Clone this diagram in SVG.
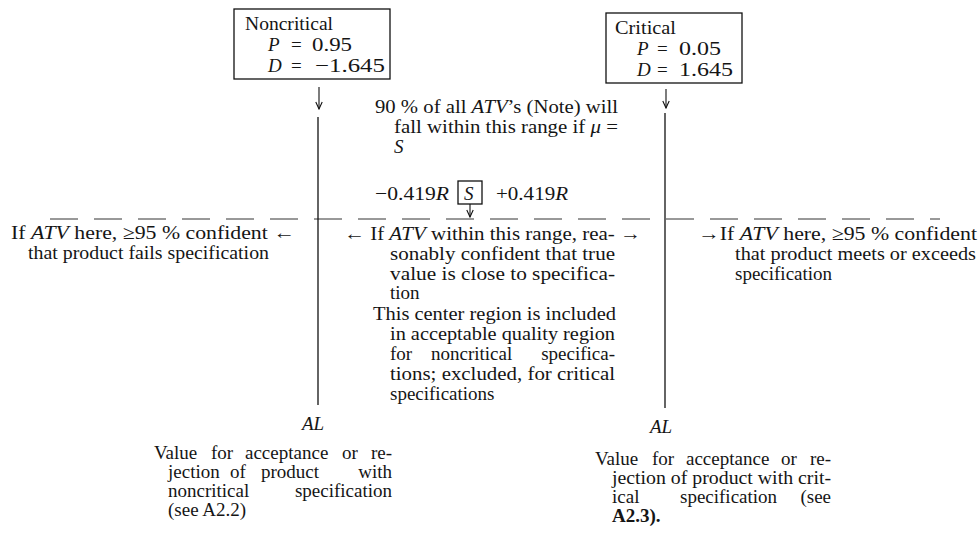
<svg xmlns="http://www.w3.org/2000/svg" width="979" height="533" viewBox="0 0 979 533">
<defs>
<marker id="ah" markerWidth="10" markerHeight="8" refX="9" refY="4" orient="auto" markerUnits="userSpaceOnUse" viewBox="0 0 10 8">
<path d="M2,0.8 L9,4 L2,7.2" fill="none" stroke="#111" stroke-width="1.1"/>
</marker>
<style>
text{font-family:"Liberation Serif","Times New Roman",serif;font-size:19px;fill:#151515}
.i{font-style:italic}
.b{font-weight:bold}
.box{fill:none;stroke:#111;stroke-width:1.3}
.ln{fill:none;stroke:#111;stroke-width:1.3}
.arr{fill:none;stroke:#111;stroke-width:1.1;marker-end:url(#ah)}
.dash{fill:none;stroke:#333;stroke-width:1;stroke-dasharray:28 16}
</style>
</defs>
<rect width="979" height="533" fill="#fff"/>

<g id="connectors">
<line class="dash" x1="50" y1="219" x2="940" y2="219"/>
<line class="arr" x1="319" y1="87" x2="319" y2="109"/>
<line class="arr" x1="666" y1="89" x2="666" y2="108"/>
<line class="ln" x1="318" y1="117" x2="318" y2="405"/>
<line class="ln" x1="665" y1="113" x2="665" y2="408"/>
<line class="arr" x1="470" y1="204" x2="470" y2="217"/>
</g>

<g id="node-noncritical">
<rect class="box" x="234" y="9" width="156" height="70"/>
<text x="245" y="30" textLength="88" lengthAdjust="spacingAndGlyphs">Noncritical</text>
<text x="268" y="51" class="i">P</text>
<text x="291" y="51">=</text>
<text x="312" y="51" textLength="40" lengthAdjust="spacingAndGlyphs">0.95</text>
<text x="268" y="72" class="i">D</text>
<text x="291" y="72">=</text>
<text x="315" y="72" textLength="70" lengthAdjust="spacingAndGlyphs">−1.645</text>
</g>

<g id="node-critical">
<rect class="box" x="606" y="13" width="136" height="70"/>
<text x="615" y="34" textLength="61" lengthAdjust="spacingAndGlyphs">Critical</text>
<text x="637" y="55" class="i">P</text>
<text x="657" y="55">=</text>
<text x="679" y="55" textLength="42" lengthAdjust="spacingAndGlyphs">0.05</text>
<text x="637" y="76" class="i">D</text>
<text x="657" y="76">=</text>
<text x="679" y="76" textLength="54" lengthAdjust="spacingAndGlyphs">1.645</text>
</g>

<g id="node-range">
<text x="375" y="113" textLength="243" lengthAdjust="spacingAndGlyphs">90 % of all <tspan class="i">ATV</tspan>’s (Note) will</text>
<text x="394" y="133" textLength="224" lengthAdjust="spacingAndGlyphs">fall within this range if <tspan class="i">μ</tspan> =</text>
<text x="394" y="153" class="i">S</text>
<text x="375" y="200" textLength="74" lengthAdjust="spacingAndGlyphs">−0.419<tspan class="i">R</tspan></text>
<rect class="box" x="458" y="181" width="24" height="23"/>
<text x="464" y="200" class="i">S</text>
<text x="496" y="200" textLength="72" lengthAdjust="spacingAndGlyphs">+0.419<tspan class="i">R</tspan></text>
</g>

<g id="region-fail">
<text x="11" y="239" textLength="284" lengthAdjust="spacingAndGlyphs">If <tspan class="i">ATV</tspan> here, ≥95 % confident ←</text>
<text x="28" y="259" textLength="241" lengthAdjust="spacingAndGlyphs">that product fails specification</text>
</g>

<g id="region-center">
<text x="344" y="240" textLength="297" lengthAdjust="spacingAndGlyphs">← If <tspan class="i">ATV</tspan> within this range, rea- →</text>
<text x="390" y="260" textLength="225" lengthAdjust="spacingAndGlyphs">sonably confident that true</text>
<text x="390" y="280" textLength="225" lengthAdjust="spacingAndGlyphs">value is close to specifica-</text>
<text x="390" y="299">tion</text>
<text x="373" y="320" textLength="243" lengthAdjust="spacingAndGlyphs">This center region is included</text>
<text x="390" y="340" textLength="225" lengthAdjust="spacingAndGlyphs">in acceptable quality region</text>
<text y="360"><tspan x="390">for</tspan><tspan x="431">noncritical</tspan></text>
<text x="615" y="360" text-anchor="end">specifica-</text>
<text x="390" y="380" textLength="225" lengthAdjust="spacingAndGlyphs">tions; excluded, for critical</text>
<text x="390" y="400">specifications</text>
</g>

<g id="region-meet">
<text x="698" y="240" textLength="279" lengthAdjust="spacingAndGlyphs">→If <tspan class="i">ATV</tspan> here, ≥95 % confident</text>
<text x="735" y="260" textLength="241" lengthAdjust="spacingAndGlyphs">that product meets or exceeds</text>
<text x="735" y="280">specification</text>
</g>

<g id="node-al-noncritical">
<text x="302" y="430" class="i">AL</text>
<text y="459"><tspan x="154">Value</tspan><tspan x="211">for</tspan><tspan x="245">acceptance</tspan><tspan x="342">or</tspan></text>
<text x="392" y="459" text-anchor="end">re-</text>
<text y="478"><tspan x="168">jection</tspan><tspan x="230">of</tspan><tspan x="261">product</tspan></text>
<text x="392" y="478" text-anchor="end">with</text>
<text x="168" y="497">noncritical</text>
<text x="392" y="497" text-anchor="end">specification</text>
<text x="168" y="516">(see A2.2)</text>
</g>

<g id="node-al-critical">
<text x="650" y="433" class="i">AL</text>
<text y="465"><tspan x="595">Value</tspan><tspan x="652">for</tspan><tspan x="686">acceptance</tspan><tspan x="781">or</tspan></text>
<text x="831" y="465" text-anchor="end">re-</text>
<text x="612" y="484" textLength="219" lengthAdjust="spacingAndGlyphs">jection of product with crit-</text>
<text y="503"><tspan x="612">ical</tspan><tspan x="680">specification</tspan></text>
<text x="831" y="503" text-anchor="end">(see</text>
<text x="612" y="522" class="b">A2.3).</text>
</g>
</svg>
